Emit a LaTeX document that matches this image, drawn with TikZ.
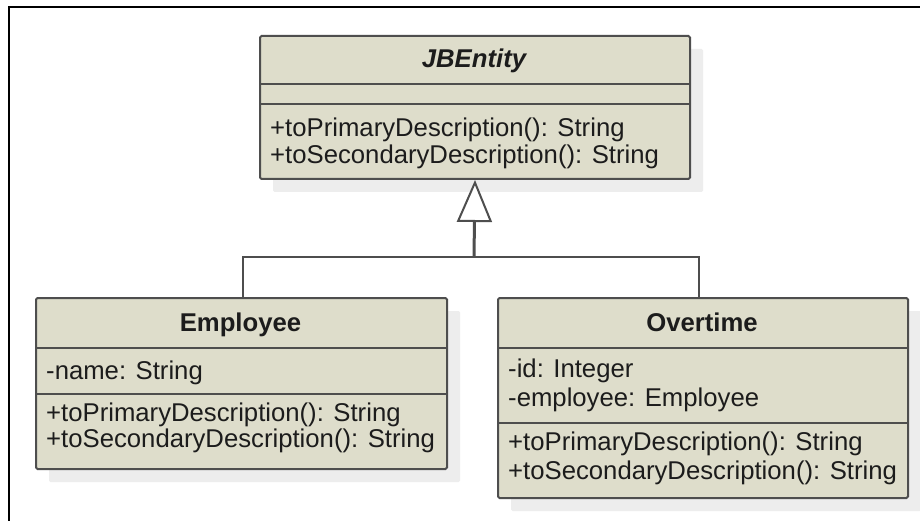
\documentclass[tikz,border=0pt]{standalone}
\usepackage{fontspec}
\setmainfont{Liberation Sans}
\usetikzlibrary{arrows.meta,calc,shadows}
\definecolor{umlfill}{HTML}{DEDDCB}
\definecolor{umlline}{HTML}{4E4E4E}
\definecolor{shadowc}{HTML}{EDEDED}
\definecolor{txtc}{HTML}{1C1C1C}
\begin{document}
\begin{tikzpicture}[x=1pt,y=-1pt,
  cls/.style={draw=umlline, line width=2pt, fill=umlfill, rounded corners=1.5pt,
    inner sep=0pt, anchor=north west,
    drop shadow={shadow xshift=13pt, shadow yshift=-13pt, fill=shadowc, opacity=1}},
  sepline/.style={draw=umlline, line width=2pt},
  txt/.style={anchor=base west, inner sep=0pt, text=txtc,
    font=\fontsize{25.7}{27}\selectfont},
  ttl/.style={anchor=base, inner sep=0pt, text=txtc,
    font=\fontsize{25.7}{27}\selectfont\bfseries},
  conn/.style={draw=umlline, line width=2pt},
  frame/.style={draw=black, line width=2pt}]
\useasboundingbox (0,0) rectangle (920,521);
\fill[white] (0,0) rectangle (920,521);
\draw[frame] (925,7) -- (9,7) -- (9,526);

% JBEntity
\node[cls, minimum width=430pt, minimum height=143pt] (jb) at (259,35) {};
\draw[sepline] ($(jb.north west)+(0,49)$) -- ($(jb.north east)+(0,49)$);
\draw[sepline] ($(jb.north west)+(0,69)$) -- ($(jb.north east)+(0,69)$);
\node[ttl, font=\fontsize{25.7}{27}\selectfont\bfseries\itshape] (jbt) at (474,68) {JBEntity};
\node[txt] (jbm1) at (270,137) {+toPrimaryDescription(): String};
\node[txt] (jbm2) at (270,164) {+toSecondaryDescription(): String};

% Employee
\node[cls, minimum width=411pt, minimum height=171pt] (emp) at (35,297) {};
\draw[sepline] ($(emp.north west)+(0,51)$) -- ($(emp.north east)+(0,51)$);
\draw[sepline] ($(emp.north west)+(0,97)$) -- ($(emp.north east)+(0,97)$);
\node[ttl] (empt) at (240.5,331) {Employee};
\node[txt] (empa1) at (46,379) {-name: String};
\node[txt] (empm1) at (46,421) {+toPrimaryDescription(): String};
\node[txt] (empm2) at (46,447) {+toSecondaryDescription(): String};

% Overtime
\node[cls, minimum width=410pt, minimum height=200pt] (ot) at (497,297) {};
\draw[sepline] ($(ot.north west)+(0,51)$) -- ($(ot.north east)+(0,51)$);
\draw[sepline] ($(ot.north west)+(0,126)$) -- ($(ot.north east)+(0,126)$);
\node[ttl] (ott) at (702,331) {Overtime};
\node[txt] (ota1) at (508,377) {-id: Integer};
\node[txt] (ota2) at (508,406) {-employee: Employee};
\node[txt] (otm1) at (508,450) {+toPrimaryDescription(): String};
\node[txt] (otm2) at (508,479) {+toSecondaryDescription(): String};

% generalization
\coordinate (split) at (474,257);
\draw[conn] ($(emp.north)+(1.5,0)$) |- (split) -| ($(ot.north)+(-4,0)$);
\draw[draw=umlline, line width=3pt,
  -{Triangle[length=42pt, width=35pt, fill=white, line width=2pt]}]
  (split) -- (jb.south);
\end{tikzpicture}
\end{document}
